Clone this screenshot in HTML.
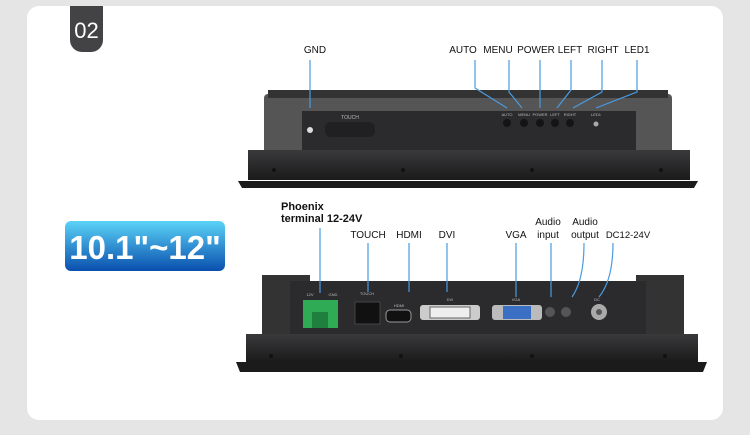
<!DOCTYPE html>
<html><head><style>
body{margin:0;width:750px;height:430px;background:#e5e5e5;overflow:hidden;font-family:"Liberation Sans",sans-serif}
</style></head><body>
<svg width="750" height="430" viewBox="0 0 750 430" xmlns="http://www.w3.org/2000/svg" font-family="Liberation Sans, sans-serif">
<defs>
<linearGradient id="bl" x1="0" y1="0" x2="0" y2="1"><stop offset="0" stop-color="#5bd3f7"/><stop offset="1" stop-color="#0a4fae"/></linearGradient>
<linearGradient id="bz" x1="0" y1="0" x2="0" y2="1"><stop offset="0" stop-color="#3a3a3c"/><stop offset="1" stop-color="#1a1a1b"/></linearGradient>
</defs>
<rect x="27" y="6" width="696" height="414" rx="12" fill="#fff"/>
<path d="M70 6H103V40a12 12 0 0 1-12 12H82a12 12 0 0 1-12-12Z" fill="#434345"/>
<text x="86.5" y="38" font-size="22" fill="#fff" text-anchor="middle">02</text>
<rect x="65" y="221" width="160" height="50" rx="6" fill="url(#bl)"/>
<text x="145" y="259" font-size="33" font-weight="bold" fill="#fff" text-anchor="middle">10.1"~12"</text>

<!-- top device -->
<rect x="264" y="94" width="408" height="60" rx="4" fill="#555"/>
<rect x="268" y="90" width="400" height="8" fill="#333"/>
<rect x="302" y="111" width="334" height="40" fill="#2b2b2d"/>
<rect x="248" y="150" width="442" height="30" fill="url(#bz)"/>
<path d="M238 181H698L694 188H242Z" fill="#1b1b1c"/>
<circle cx="310" cy="130" r="3" fill="#ddd"/>
<rect x="325" y="122" width="50" height="15" rx="6" fill="#202022"/>
<text x="350" y="119" font-size="5" fill="#bbb" text-anchor="middle">TOUCH</text>
<g fill="#141414"><circle cx="507" cy="123" r="4"/><circle cx="524" cy="123" r="4"/><circle cx="540" cy="123" r="4"/><circle cx="555" cy="123" r="4"/><circle cx="570" cy="123" r="4"/></g>
<circle cx="596" cy="124" r="2.5" fill="#aaa"/>
<g font-size="4" fill="#bbb" text-anchor="middle"><text x="507" y="116">AUTO</text><text x="524" y="116">MENU</text><text x="540" y="116">POWER</text><text x="555" y="116">LEFT</text><text x="570" y="116">RIGHT</text><text x="596" y="116">LED1</text></g>
<g fill="#111"><circle cx="274" cy="170" r="2"/><circle cx="403" cy="170" r="2"/><circle cx="532" cy="170" r="2"/><circle cx="661" cy="170" r="2"/></g>

<!-- bottom device -->
<rect x="262" y="275" width="48" height="60" fill="#333"/>
<rect x="636" y="275" width="48" height="60" fill="#333"/>
<rect x="290" y="281" width="356" height="54" fill="#2b2b2d"/>
<rect x="246" y="334" width="452" height="28" fill="url(#bz)"/>
<path d="M236 362H707L703 372H240Z" fill="#1b1b1c"/>
<g fill="#111"><circle cx="271" cy="356" r="2"/><circle cx="401" cy="356" r="2"/><circle cx="532" cy="356" r="2"/><circle cx="665" cy="356" r="2"/></g>
<rect x="303" y="300" width="35" height="28" fill="#2faa55"/>
<rect x="312" y="312" width="16" height="16" fill="#1f7f3d"/>
<rect x="355" y="302" width="25" height="22" fill="#111" stroke="#444"/>
<rect x="386" y="310" width="25" height="12" rx="4" fill="#111" stroke="#999"/>
<rect x="420" y="305" width="60" height="15" rx="3" fill="#ccc"/>
<rect x="430" y="307" width="40" height="11" fill="#eee" stroke="#666"/>
<rect x="492" y="305" width="50" height="15" rx="3" fill="#bbb"/>
<rect x="503" y="306" width="28" height="13" fill="#3a6fc4"/>
<circle cx="550" cy="312" r="5" fill="#555"/><circle cx="566" cy="312" r="5" fill="#555"/>
<circle cx="599" cy="312" r="8" fill="#aaa"/><circle cx="599" cy="312" r="3" fill="#555"/>
<g font-size="4" fill="#bbb" text-anchor="middle"><text x="310" y="296">12V</text><text x="333" y="296">GND</text><text x="367" y="295">TOUCH</text><text x="399" y="307">HDMI</text><text x="450" y="301">DVI</text><text x="516" y="301">VGA</text><text x="597" y="301">DC</text></g>

<!-- leader lines -->
<g stroke="#4a9be0" stroke-width="1.2" fill="none">
<path d="M310 60V108"/>
<path d="M475 60V88L507 108"/>
<path d="M509 60V92L522 108"/>
<path d="M540 60V108"/>
<path d="M571 60V90L557 108"/>
<path d="M602 60V92L573 108"/>
<path d="M637 60V92L596 108"/>
<path d="M320 228V293"/>
<path d="M368 243V292"/>
<path d="M409 243V292"/>
<path d="M447 243V292"/>
<path d="M516 243V297"/>
<path d="M551 243V297"/>
<path d="M584 243Q584 280 572 297"/>
<path d="M613 243Q613 280 599 297"/>
</g>
<g font-size="10" fill="#111" text-anchor="middle">
<text x="315" y="53">GND</text><text x="463" y="53">AUTO</text><text x="498" y="53">MENU</text><text x="536" y="53">POWER</text><text x="570" y="53">LEFT</text><text x="603" y="53">RIGHT</text><text x="637" y="53">LED1</text>
<text x="368" y="238">TOUCH</text><text x="409" y="238">HDMI</text><text x="447" y="238">DVI</text><text x="516" y="238">VGA</text>
<text x="548" y="225">Audio</text><text x="548" y="238">input</text>
<text x="585" y="225">Audio</text><text x="585" y="238">output</text>
<text x="628" y="238" font-size="9.5">DC12-24V</text>
</g>
<text x="281" y="210" font-size="11" font-weight="bold" fill="#111">Phoenix</text>
<text x="281" y="222" font-size="11" font-weight="bold" fill="#111">terminal 12-24V</text>
</svg>
</body></html>
